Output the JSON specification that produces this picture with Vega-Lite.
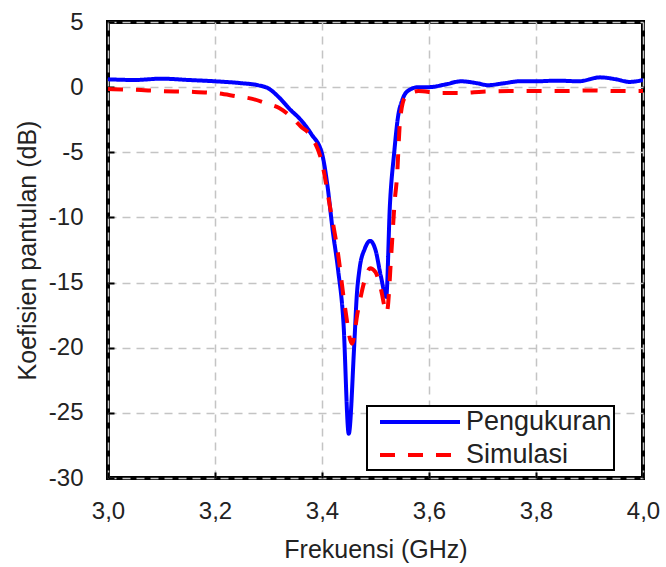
{
  "$schema": "https://vega.github.io/schema/vega-lite/v6.json",
  "autosize": {"type": "none"},
  "width": 535,
  "height": 456,
  "padding": {"left": 108, "top": 22, "right": 23, "bottom": 89},
  "background": "white",
  "config": {
    "font": "Liberation Sans",
    "view": {"stroke": "black", "strokeWidth": 4},
    "axis": {
      "domain": false,
      "gridColor": "#c4c4c4",
      "gridDash": [8, 6],
      "gridWidth": 1.5,
      "tickColor": "black",
      "tickWidth": 2,
      "tickSize": -6,
      "labelFont": "Liberation Sans",
      "labelFontSize": 24,
      "labelColor": "#222222",
      "titleFont": "Liberation Sans",
      "titleFontSize": 25,
      "titleFontWeight": "normal",
      "titleColor": "#222222"
    }
  },
  "data": {
    "values": [
      {"f": 3.00, "db": 0.6, "series": "Pengukuran"},
      {"f": 3.05, "db": 0.55, "series": "Pengukuran"},
      {"f": 3.10, "db": 0.65, "series": "Pengukuran"},
      {"f": 3.15, "db": 0.55, "series": "Pengukuran"},
      {"f": 3.20, "db": 0.45, "series": "Pengukuran"},
      {"f": 3.25, "db": 0.3, "series": "Pengukuran"},
      {"f": 3.28, "db": 0.15, "series": "Pengukuran"},
      {"f": 3.30, "db": -0.1, "series": "Pengukuran"},
      {"f": 3.32, "db": -0.8, "series": "Pengukuran"},
      {"f": 3.34, "db": -1.7, "series": "Pengukuran"},
      {"f": 3.36, "db": -2.5, "series": "Pengukuran"},
      {"f": 3.38, "db": -3.6, "series": "Pengukuran"},
      {"f": 3.40, "db": -5.1, "series": "Pengukuran"},
      {"f": 3.41, "db": -7.5, "series": "Pengukuran"},
      {"f": 3.42, "db": -11, "series": "Pengukuran"},
      {"f": 3.43, "db": -14, "series": "Pengukuran"},
      {"f": 3.44, "db": -18, "series": "Pengukuran"},
      {"f": 3.45, "db": -26.6, "series": "Pengukuran"},
      {"f": 3.46, "db": -20, "series": "Pengukuran"},
      {"f": 3.465, "db": -16, "series": "Pengukuran"},
      {"f": 3.47, "db": -14, "series": "Pengukuran"},
      {"f": 3.48, "db": -12.4, "series": "Pengukuran"},
      {"f": 3.49, "db": -11.8, "series": "Pengukuran"},
      {"f": 3.50, "db": -12.5, "series": "Pengukuran"},
      {"f": 3.51, "db": -14.5, "series": "Pengukuran"},
      {"f": 3.52, "db": -16.1, "series": "Pengukuran"},
      {"f": 3.527, "db": -9, "series": "Pengukuran"},
      {"f": 3.535, "db": -5, "series": "Pengukuran"},
      {"f": 3.542, "db": -2.3, "series": "Pengukuran"},
      {"f": 3.55, "db": -1.0, "series": "Pengukuran"},
      {"f": 3.56, "db": -0.3, "series": "Pengukuran"},
      {"f": 3.58, "db": 0.0, "series": "Pengukuran"},
      {"f": 3.60, "db": 0.0, "series": "Pengukuran"},
      {"f": 3.63, "db": 0.2, "series": "Pengukuran"},
      {"f": 3.66, "db": 0.45, "series": "Pengukuran"},
      {"f": 3.69, "db": 0.3, "series": "Pengukuran"},
      {"f": 3.71, "db": 0.15, "series": "Pengukuran"},
      {"f": 3.74, "db": 0.3, "series": "Pengukuran"},
      {"f": 3.77, "db": 0.45, "series": "Pengukuran"},
      {"f": 3.80, "db": 0.45, "series": "Pengukuran"},
      {"f": 3.84, "db": 0.5, "series": "Pengukuran"},
      {"f": 3.88, "db": 0.45, "series": "Pengukuran"},
      {"f": 3.92, "db": 0.75, "series": "Pengukuran"},
      {"f": 3.95, "db": 0.6, "series": "Pengukuran"},
      {"f": 3.975, "db": 0.4, "series": "Pengukuran"},
      {"f": 4.00, "db": 0.55, "series": "Pengukuran"},
      {"f": 3.00, "db": -0.15, "series": "Simulasi"},
      {"f": 3.05, "db": -0.2, "series": "Simulasi"},
      {"f": 3.10, "db": -0.3, "series": "Simulasi"},
      {"f": 3.15, "db": -0.35, "series": "Simulasi"},
      {"f": 3.20, "db": -0.45, "series": "Simulasi"},
      {"f": 3.24, "db": -0.7, "series": "Simulasi"},
      {"f": 3.27, "db": -0.9, "series": "Simulasi"},
      {"f": 3.30, "db": -1.3, "series": "Simulasi"},
      {"f": 3.32, "db": -1.6, "series": "Simulasi"},
      {"f": 3.34, "db": -2.2, "series": "Simulasi"},
      {"f": 3.36, "db": -3.0, "series": "Simulasi"},
      {"f": 3.38, "db": -3.8, "series": "Simulasi"},
      {"f": 3.40, "db": -5.8, "series": "Simulasi"},
      {"f": 3.415, "db": -9.2, "series": "Simulasi"},
      {"f": 3.43, "db": -12.8, "series": "Simulasi"},
      {"f": 3.443, "db": -16.9, "series": "Simulasi"},
      {"f": 3.456, "db": -19.7, "series": "Simulasi"},
      {"f": 3.467, "db": -17.2, "series": "Simulasi"},
      {"f": 3.48, "db": -14.8, "series": "Simulasi"},
      {"f": 3.49, "db": -13.9, "series": "Simulasi"},
      {"f": 3.50, "db": -14.2, "series": "Simulasi"},
      {"f": 3.51, "db": -15.5, "series": "Simulasi"},
      {"f": 3.521, "db": -17.3, "series": "Simulasi"},
      {"f": 3.53, "db": -12.5, "series": "Simulasi"},
      {"f": 3.536, "db": -8.7, "series": "Simulasi"},
      {"f": 3.54, "db": -7.0, "series": "Simulasi"},
      {"f": 3.546, "db": -2.5, "series": "Simulasi"},
      {"f": 3.555, "db": -0.8, "series": "Simulasi"},
      {"f": 3.58, "db": -0.3, "series": "Simulasi"},
      {"f": 3.62, "db": -0.45, "series": "Simulasi"},
      {"f": 3.66, "db": -0.45, "series": "Simulasi"},
      {"f": 3.70, "db": -0.35, "series": "Simulasi"},
      {"f": 3.75, "db": -0.3, "series": "Simulasi"},
      {"f": 3.80, "db": -0.3, "series": "Simulasi"},
      {"f": 3.85, "db": -0.3, "series": "Simulasi"},
      {"f": 3.90, "db": -0.25, "series": "Simulasi"},
      {"f": 3.95, "db": -0.3, "series": "Simulasi"},
      {"f": 4.00, "db": -0.3, "series": "Simulasi"}
    ]
  },
  "mark": {"type": "line", "strokeWidth": 4, "interpolate": "monotone", "clip": true},
  "encoding": {
    "x": {
      "field": "f",
      "type": "quantitative",
      "scale": {"domain": [3, 4], "nice": false},
      "axis": {
        "title": "Frekuensi (GHz)",
        "values": [3, 3.2, 3.4, 3.6, 3.8, 4],
        "labelExpr": "replace(format(datum.value, '.1f'), '.', ',')",
        "labelPadding": 27,
        "titlePadding": 14,
        "labelFlush": false
      }
    },
    "y": {
      "field": "db",
      "type": "quantitative",
      "scale": {"domain": [-30, 5], "nice": false},
      "axis": {
        "title": "Koefisien pantulan (dB)",
        "values": [5, 0, -5, -10, -15, -20, -25, -30],
        "labelExpr": "datum.value + ''",
        "labelPadding": 31,
        "titlePadding": 8,
        "labelFlush": false
      }
    },
    "color": {
      "field": "series",
      "type": "nominal",
      "scale": {"domain": ["Pengukuran", "Simulasi"], "range": ["#0000ff", "#ff0000"]},
      "legend": {
        "title": null,
        "orient": "none",
        "legendX": 259,
        "legendY": 384,
        "strokeColor": "black",
        "fillColor": "white",
        "padding": 2,
        "symbolType": "M-0.25,0H6.417",
        "symbolSize": 576,
        "symbolStrokeWidth": 4,
        "labelFontSize": 27,
        "labelFont": "Liberation Sans",
        "labelColor": "#222222",
        "rowPadding": 6,
        "labelOffset": 69,
        "labelLimit": 300,
        "encode": {"legend": {"update": {"strokeWidth": {"value": 2}}}}
      }
    },
    "strokeDash": {
      "field": "series",
      "type": "nominal",
      "scale": {"domain": ["Pengukuran", "Simulasi"], "range": [[1, 0], [15, 13]]},
      "legend": null
    }
  }
}
